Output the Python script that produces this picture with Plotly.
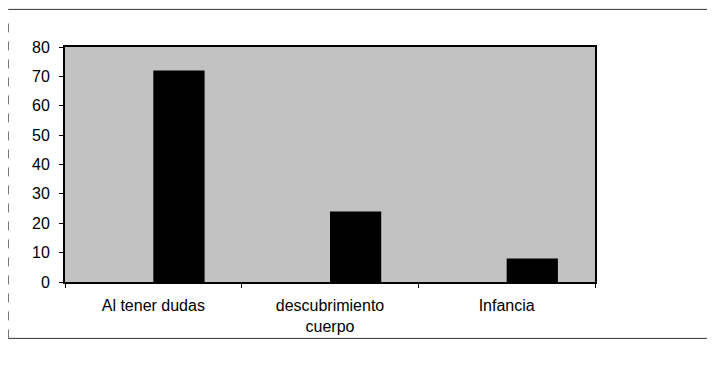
import plotly.graph_objects as go

categorias = ["Al tener dudas", "descubrimiento<br>cuerpo", "Infancia"]
valores = [72, 24, 8]
ticks_y = [0, 10, 20, 30, 40, 50, 60, 70, 80]

fig = go.Figure()
fig.add_trace(go.Bar(x=categorias, y=valores, marker=dict(color="black", line=dict(width=0)),
                     width=0.29, offset=0.0, showlegend=False))

# la pagina tiene 8px de margen en el body
fig.update_layout(
    width=700, height=355,
    margin=dict(l=57, r=113, t=39, b=81),
    paper_bgcolor="white", plot_bgcolor="#c2c2c2",
    font=dict(family="Liberation Sans, Arial", size=16, color="black"),
    bargap=0.7,
)
fig.update_xaxes(showline=True, linecolor="black", linewidth=2, mirror=True,
                 ticks="outside", tickson="boundaries", ticklen=4, tickcolor="black",
                 showgrid=False, ticklabelstandoff=8)
fig.update_yaxes(range=[0, 80], tickvals=ticks_y, showline=True, linecolor="black",
                 linewidth=2, mirror=True, ticks="outside", ticklen=4, tickcolor="black",
                 showgrid=False, zeroline=False, ticklabelstandoff=6)

# marco exterior escaneado
fig.add_shape(type="line", xref="paper", yref="paper", x0=-0.107, x1=1.22, y0=1.16, y1=1.16,
              line=dict(color="#333", width=1))
fig.add_shape(type="line", xref="paper", yref="paper", x0=-0.107, x1=1.22, y0=-0.24, y1=-0.24,
              line=dict(color="#333", width=1))
fig.add_shape(type="line", xref="paper", yref="paper", x0=-0.107, x1=-0.107, y0=-0.24, y1=1.1,
              line=dict(color="#555", width=1, dash="dash"))

fig.write_html("out.html")
